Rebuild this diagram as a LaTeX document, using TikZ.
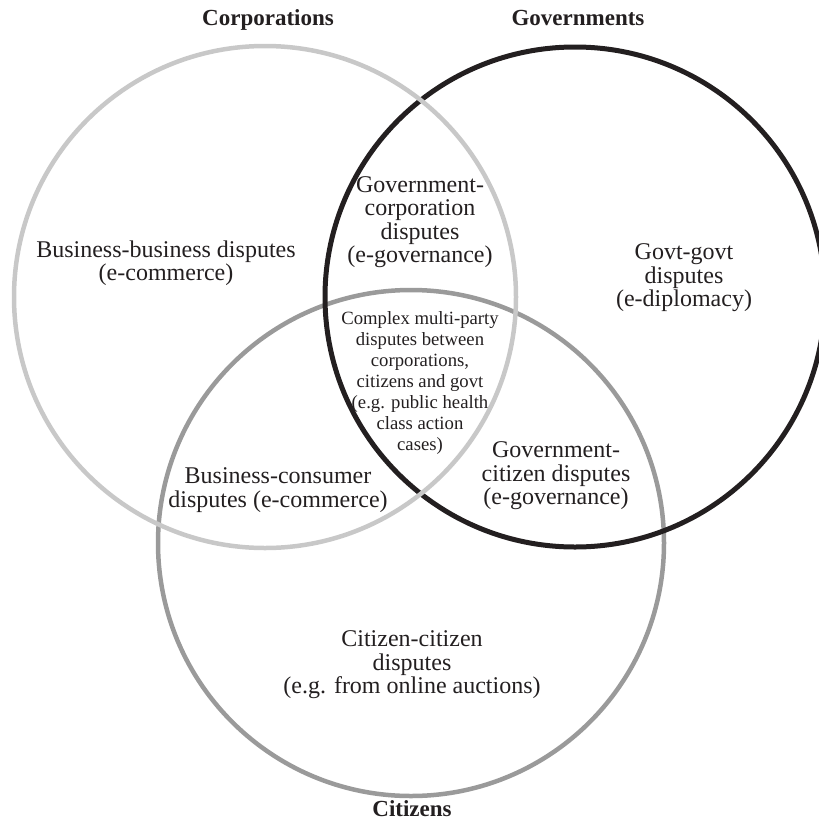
\documentclass[tikz,border=0pt]{standalone}
\usepackage{fontspec}
\setmainfont{Liberation Serif}
\definecolor{ink}{HTML}{231F20}
\definecolor{corpgray}{HTML}{C8C8C8}
\definecolor{citgray}{HTML}{9A9A9A}
\begin{document}
\begin{tikzpicture}[x=1pt,y=-1pt,
  ring/.style={line width=4.5pt},
  region/.style={align=center, text=ink, inner sep=0pt, font=\fontsize{24}{23.5}\selectfont},
  core/.style={align=center, text=ink, inner sep=0pt, font=\fontsize{18.7}{21}\selectfont},
  title/.style={text=ink, inner sep=0pt, anchor=base, font=\fontsize{23}{24}\selectfont\bfseries}]
\useasboundingbox (0,0) rectangle (819,822);
% circle centres
\coordinate (cit) at (411,543);
\coordinate (gov) at (575,297);
\coordinate (corp) at (265,297);
% the three sets
\draw[ring, citgray] (cit) circle[radius=253pt];
\draw[ring, ink, line width=5pt] (gov) circle[radius=250pt];
\draw[ring, corpgray] (corp) circle[radius=251pt];
% set titles, on a common baseline
\node[title] (tcorp) at (268,25) {Corporations};
\node[title] (tgov) at (578,25) {Governments};
\node[title] (tcit) at (412,816) {Citizens};
% regions
\node[region] (bb) at (166,263) {Business-business disputes\\(e-commerce)};
\node[region] (gc) at (420,222) {Government-\\corporation\\disputes\\(e-governance)};
\node[region] (gg) at (684,278) {Govt-govt\\disputes\\(e-diplomacy)};
\node[core] (all) at (420,383) {Complex multi-party\\disputes between\\corporations,\\citizens and govt\\(e.g. public health\\class action\\cases)};
\node[region] (bc) at (278,490) {Business-consumer\\disputes (e-commerce)};
\node[region] (gcz) at (556,476) {Government-\\citizen disputes\\(e-governance)};
\node[region] (cc) at (412,665) {Citizen-citizen\\disputes\\(e.g. from online auctions)};
\end{tikzpicture}
\end{document}
